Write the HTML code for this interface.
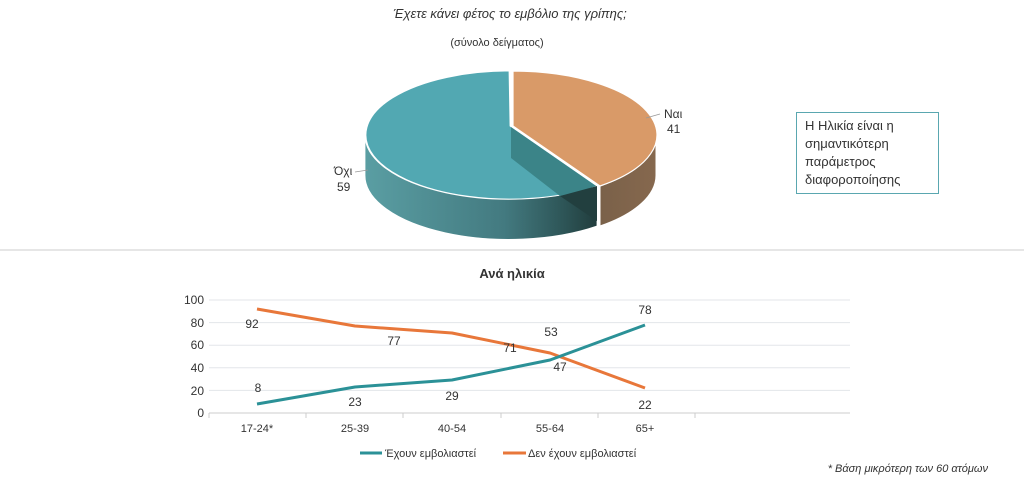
<!DOCTYPE html>
<html><head><meta charset="utf-8"><style>
body{margin:0;background:#fff;width:1024px;height:480px;overflow:hidden}
text{font-family:"Liberation Sans","DejaVu Sans",sans-serif;fill:#333}
</style></head><body>
<svg width="1024" height="480" viewBox="0 0 1024 480" xmlns="http://www.w3.org/2000/svg">
<defs>
<linearGradient id="ts" x1="0" x2="1" y1="0" y2="0">
<stop offset="0" stop-color="#5a9ea3"/><stop offset="0.6" stop-color="#437a80"/><stop offset="0.85" stop-color="#2e5658"/><stop offset="1" stop-color="#213d3d"/></linearGradient>
<linearGradient id="os" x1="0" x2="1"><stop offset="0" stop-color="#7a6149"/><stop offset="1" stop-color="#86684e"/></linearGradient>
</defs>
<text x="510" y="18" font-size="13" font-style="italic" text-anchor="middle" fill="#444">Έχετε κάνει φέτος το εμβόλιο της γρίπης;</text>
<text x="497" y="46" font-size="11" text-anchor="middle">(σύνολο δείγματος)</text>
<!-- pie sides -->
<path d="M597,186 A144,64 0 0 1 365,135 L365,175 A144,64 0 0 0 597,226 Z" fill="url(#ts)" stroke="#fff" stroke-width="0.8"/>
<path d="M656,135 A144,64 0 0 1 600,186 L600,226 A144,64 0 0 0 656,175 Z" fill="url(#os)" stroke="#fff" stroke-width="1"/>
<!-- tops -->
<path d="M510,126 L597,186 A144,64 0 1 1 509,71 Z" fill="#52a8b2" stroke="#fff" stroke-width="0.8"/>
<path d="M513,126 L513,71 A144,64 0 0 1 600,186 Z" fill="#d99a68" stroke="#fff" stroke-width="1.2"/>
<path d="M511,127 L511,158 L560,196 A144,64 0 0 0 596,186 Z" fill="#3b8488"/>
<path d="M560,196 L597,221 L597,186 Z" fill="#223f3f"/>
<!-- pie labels -->
<text x="664" y="118" font-size="12">Ναι</text>
<text x="667" y="133" font-size="12">41</text>
<line x1="646" y1="118" x2="660" y2="114" stroke="#999" stroke-width="0.8"/>
<text x="334" y="175" font-size="12">Όχι</text>
<text x="337" y="191" font-size="12">59</text>
<line x1="355" y1="172" x2="368" y2="170" stroke="#999" stroke-width="0.8"/>
<!-- box -->
<rect x="796.5" y="112.5" width="142" height="81" fill="#fff" stroke="#5aa7b0" stroke-width="1"/>
<text font-size="13" fill="#222"><tspan x="805" y="130">Η Ηλικία είναι η</tspan><tspan x="805" y="148">σημαντικότερη</tspan><tspan x="805" y="166">παράμετρος</tspan><tspan x="805" y="184">διαφοροποίησης</tspan></text>
<line x1="0" y1="250" x2="1024" y2="250" stroke="#ddd" stroke-width="1.5"/>
<!-- line chart -->
<text x="512" y="278" font-size="13" font-weight="bold" text-anchor="middle">Ανά ηλικία</text>
<g stroke="#e3e6ea" stroke-width="1">
<line x1="209" y1="300" x2="850" y2="300"/><line x1="209" y1="322.6" x2="850" y2="322.6"/><line x1="209" y1="345.2" x2="850" y2="345.2"/><line x1="209" y1="367.8" x2="850" y2="367.8"/><line x1="209" y1="390.4" x2="850" y2="390.4"/></g>
<line x1="209" y1="413" x2="850" y2="413" stroke="#ccc"/>
<g stroke="#ccc"><line x1="209" y1="413" x2="209" y2="418"/><line x1="306" y1="413" x2="306" y2="418"/><line x1="403" y1="413" x2="403" y2="418"/><line x1="501" y1="413" x2="501" y2="418"/><line x1="598" y1="413" x2="598" y2="418"/><line x1="695" y1="413" x2="695" y2="418"/></g>
<g font-size="12" text-anchor="end"><text x="204" y="304">100</text><text x="204" y="327">80</text><text x="204" y="349">60</text><text x="204" y="372">40</text><text x="204" y="395">20</text><text x="204" y="417">0</text></g>
<g font-size="11" text-anchor="middle"><text x="257" y="432">17-24*</text><text x="355" y="432">25-39</text><text x="452" y="432">40-54</text><text x="550" y="432">55-64</text><text x="645" y="432">65+</text></g>
<polyline points="257,309 355,326 452,333 550,353 645,388" fill="none" stroke="#e8773a" stroke-width="3" stroke-linejoin="round"/>
<polyline points="257,404 355,387 452,380 550,360 645,325" fill="none" stroke="#2b9197" stroke-width="3" stroke-linejoin="round"/>
<g font-size="12" text-anchor="middle"><text x="252" y="328">92</text><text x="394" y="345">77</text><text x="510" y="352">71</text><text x="551" y="336">53</text><text x="645" y="409">22</text>
<text x="258" y="392">8</text><text x="355" y="406">23</text><text x="452" y="400">29</text><text x="560" y="371">47</text><text x="645" y="314">78</text></g>
<line x1="360" y1="453" x2="382" y2="453" stroke="#2b9197" stroke-width="3"/>
<text x="385" y="457" font-size="11">Έχουν εμβολιαστεί</text>
<line x1="503" y1="453" x2="526" y2="453" stroke="#e8773a" stroke-width="3"/>
<text x="528" y="457" font-size="11">Δεν έχουν εμβολιαστεί</text>
<text x="988" y="472" font-size="11" font-style="italic" text-anchor="end">* Βάση μικρότερη των 60 ατόμων</text>
</svg>
</body></html>
